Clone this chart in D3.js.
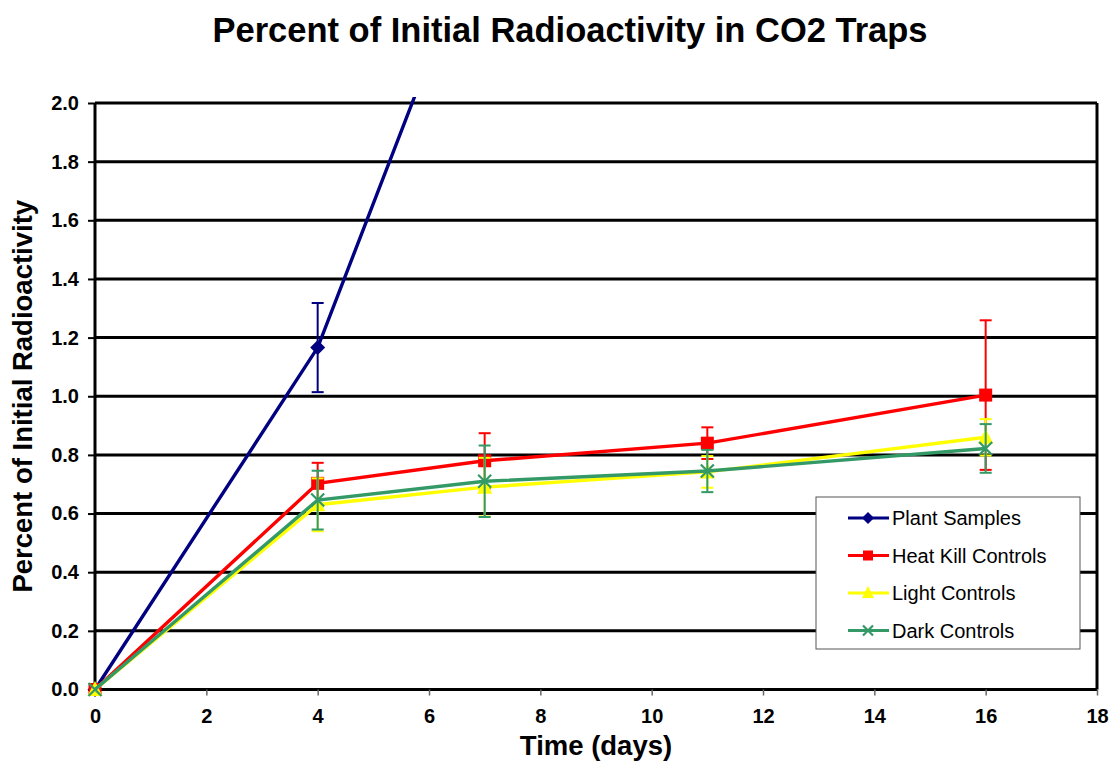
<!DOCTYPE html>
<html>
<head>
<meta charset="utf-8">
<script src="https://cdn.jsdelivr.net/npm/d3@7"></script>
<style>
  html, body { margin: 0; padding: 0; background: #fff; }
  svg { display: block; font-family: "Liberation Sans", Arial, sans-serif; }
</style>
</head>
<body>
<svg id="chart" width="1112" height="762"></svg>
<script>
// Time points (days) for each series
const plantDays = [0, 4, 7];
const controlDays = [0, 4, 7, 11, 16];

// Percent of initial radioactivity (means) and error-bar half-widths
const plantValues = [0, 1.166, 2.64];
const plantErrors = [0, 0.152, 0];
const heatKillValues = [0, 0.703, 0.780, 0.840, 1.004];
const heatKillErrors = [0, 0.070, 0.094, 0.054, 0.255];
const lightValues = [0, 0.630, 0.690, 0.742, 0.860];
const lightErrors = [0, 0.090, 0.100, 0.054, 0.062];
const darkValues = [0, 0.646, 0.710, 0.745, 0.822];
const darkErrors = [0, 0.100, 0.122, 0.072, 0.083];

const seriesNames = ["Plant Samples", "Heat Kill Controls", "Light Controls", "Dark Controls"];
const seriesColors = ["#000080", "#FF0000", "#FFFF00", "#339966"];
const seriesMarkers = ["diamond", "square", "triangle", "cross"];

const xTicks = [0, 2, 4, 6, 8, 10, 12, 14, 16, 18];
const yTicks = [0.0, 0.2, 0.4, 0.6, 0.8, 1.0, 1.2, 1.4, 1.6, 1.8, 2.0];

const series = [
  { days: plantDays, values: plantValues, errors: plantErrors },
  { days: controlDays, values: heatKillValues, errors: heatKillErrors },
  { days: controlDays, values: lightValues, errors: lightErrors },
  { days: controlDays, values: darkValues, errors: darkErrors }
].map((s, i) => ({
  ...s,
  name: seriesNames[i],
  color: seriesColors[i],
  marker: seriesMarkers[i],
  points: s.days.map((d, j) => ({ x: d, y: s.values[j], e: s.errors[j] }))
}));

const svg = d3.select("#chart");
const x = d3.scaleLinear().domain([0, 18]).range([95, 1097]);
const y = d3.scaleLinear().domain([0, 2]).range([689.5, 103]);

// Title
svg.append("text")
  .attr("x", 570).attr("y", 42)
  .attr("text-anchor", "middle")
  .attr("font-size", 34.5).attr("font-weight", "bold")
  .text("Percent of Initial Radioactivity in CO2 Traps");

// Horizontal gridlines
svg.append("g").selectAll("line").data(yTicks).join("line")
  .attr("x1", x(0)).attr("x2", x(18))
  .attr("y1", d => y(d)).attr("y2", d => y(d))
  .attr("stroke", "#000").attr("stroke-width", 3);

// Plot frame (left and right edges)
svg.append("line").attr("x1", x(0)).attr("x2", x(0)).attr("y1", y(2)).attr("y2", y(0))
  .attr("stroke", "#000").attr("stroke-width", 3);
svg.append("line").attr("x1", x(18)).attr("x2", x(18)).attr("y1", y(2)).attr("y2", y(0))
  .attr("stroke", "#000").attr("stroke-width", 3);

// Y axis
const yAxis = svg.append("g")
  .attr("transform", `translate(${x(0)},0)`)
  .call(d3.axisLeft(y).tickValues(yTicks).tickFormat(d3.format(".1f")).tickSize(7).tickPadding(9));
yAxis.select(".domain").remove();
yAxis.selectAll(".tick line").attr("stroke", "#000").attr("stroke-width", 2);
yAxis.selectAll(".tick text")
  .attr("font-size", 20).attr("font-weight", "bold").attr("fill", "#000")
  .attr("font-family", "Liberation Sans, Arial, sans-serif");

// X axis
const xAxis = svg.append("g")
  .attr("transform", `translate(0,${y(0)})`)
  .call(d3.axisBottom(x).tickValues(xTicks).tickSize(6).tickPadding(13));
xAxis.select(".domain").remove();
xAxis.selectAll(".tick line").attr("stroke", "#666").attr("stroke-width", 1.5);
xAxis.selectAll(".tick text")
  .attr("font-size", 20).attr("font-weight", "bold").attr("fill", "#000")
  .attr("font-family", "Liberation Sans, Arial, sans-serif");

// Axis titles
svg.append("text")
  .attr("x", 596).attr("y", 755)
  .attr("text-anchor", "middle")
  .attr("font-size", 27.5).attr("font-weight", "bold")
  .text("Time (days)");
svg.append("text")
  .attr("transform", `translate(32,${(y(0) + y(2)) / 2}) rotate(-90)`)
  .attr("text-anchor", "middle")
  .attr("font-size", 27.5).attr("font-weight", "bold")
  .text("Percent of Initial Radioactivity");

// Clip so series running past 2.0 are cut at the plot top
svg.append("clipPath").attr("id", "plotClip")
  .append("rect")
  .attr("x", x(0) - 12).attr("y", y(2) - 6)
  .attr("width", x(18) - x(0) + 24).attr("height", y(0) - y(2) + 18);

const plot = svg.append("g").attr("clip-path", "url(#plotClip)");

const line = d3.line().x(d => x(d.x)).y(d => y(d.y));

// Marker shapes
function drawMarker(g, type, color, size) {
  const h = size / 2;
  if (type === "diamond") {
    g.append("path").attr("d", `M0,${-h - 1}L${h + 1},0L0,${h + 1}L${-h - 1},0Z`).attr("fill", color);
  } else if (type === "square") {
    g.append("rect").attr("x", -h).attr("y", -h).attr("width", size).attr("height", size).attr("fill", color);
  } else if (type === "triangle") {
    g.append("path").attr("d", `M0,${-h - 2}L${h + 1},${h}L${-h - 1},${h}Z`).attr("fill", color);
  } else if (type === "cross") {
    g.append("path").attr("d", `M${-h},${-h}L${h},${h}M${h},${-h}L${-h},${h}`)
      .attr("stroke", color).attr("stroke-width", 2.2).attr("fill", "none");
  }
}

series.forEach(s => {
  const g = plot.append("g");
  // Error bars
  const eb = g.append("g").selectAll("g").data(s.points.filter(p => p.e > 0)).join("g");
  eb.append("line")
    .attr("x1", d => x(d.x)).attr("x2", d => x(d.x))
    .attr("y1", d => y(d.y - d.e)).attr("y2", d => y(d.y + d.e))
    .attr("stroke", s.color).attr("stroke-width", 2);
  [-1, 1].forEach(sign => {
    eb.append("line")
      .attr("x1", d => x(d.x) - 6).attr("x2", d => x(d.x) + 6)
      .attr("y1", d => y(d.y + sign * d.e)).attr("y2", d => y(d.y + sign * d.e))
      .attr("stroke", s.color).attr("stroke-width", 2);
  });
  // Line
  g.append("path").datum(s.points)
    .attr("d", line).attr("fill", "none")
    .attr("stroke", s.color).attr("stroke-width", 3.4);
  // Markers
  s.points.forEach(p => {
    const m = g.append("g").attr("transform", `translate(${x(p.x)},${y(p.y)})`);
    drawMarker(m, s.marker, s.color, 13);
  });
});

// Legend
const lg = svg.append("g").attr("transform", "translate(816,497)");
lg.append("rect").attr("width", 264).attr("height", 152)
  .attr("fill", "#fff").attr("stroke", "#555").attr("stroke-width", 1);
series.forEach((s, i) => {
  const row = lg.append("g").attr("transform", `translate(0,${21 + i * 37.5})`);
  row.append("line").attr("x1", 32).attr("x2", 73).attr("y1", 0).attr("y2", 0)
    .attr("stroke", s.color).attr("stroke-width", 3);
  const m = row.append("g").attr("transform", "translate(52,0)");
  drawMarker(m, s.marker, s.color, 10);
  row.append("text").attr("x", 76).attr("y", 7)
    .attr("font-size", 20).attr("fill", "#000")
    .text(s.name);
});
</script>
</body>
</html>
